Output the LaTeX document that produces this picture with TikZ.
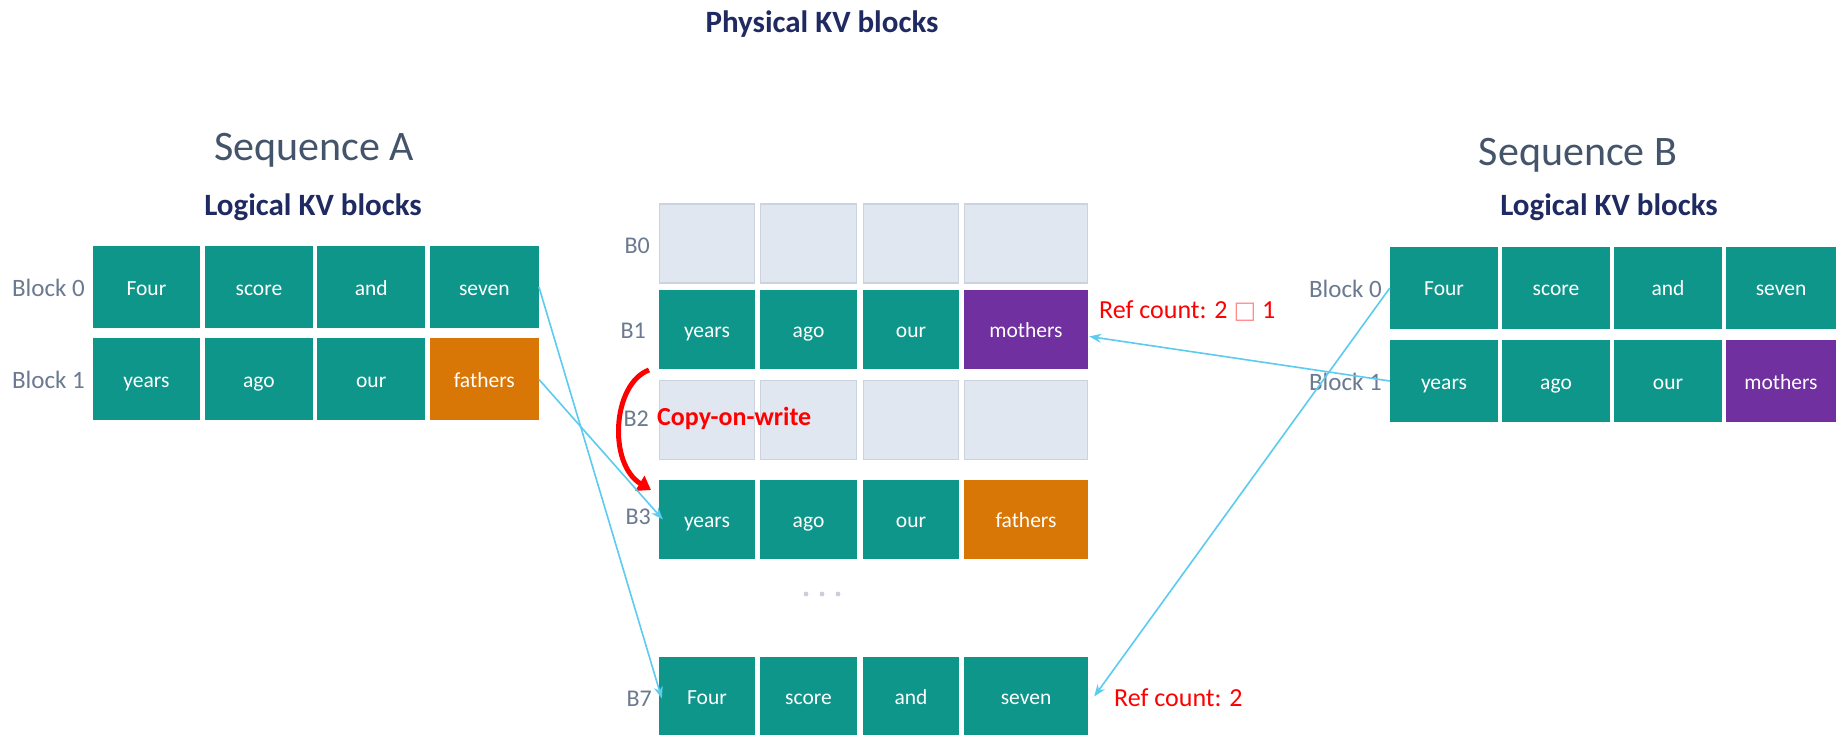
\documentclass[tikz,border=0pt]{standalone}
\usepackage{fontspec}
\setmainfont{Carlito}
\newfontfamily\dejavu{DejaVu Sans}
\usetikzlibrary{arrows.meta,calc}
\definecolor{tealc}{HTML}{0F968A}
\definecolor{orangec}{HTML}{D97706}
\definecolor{purplec}{HTML}{7030A0}
\definecolor{emptyf}{HTML}{E1E7F0}
\definecolor{emptyd}{HTML}{CBD3DF}
\definecolor{navyc}{HTML}{1F2A63}
\definecolor{seqc}{HTML}{44546A}
\definecolor{lblc}{HTML}{6B7A90}
\definecolor{linkc}{HTML}{5CCBF0}
\definecolor{dotc}{HTML}{C8CFDA}
\tikzset{
  cellbox/.style={minimum height=#1, inner sep=0pt, text=white,
    text height=18pt, text depth=2pt,
    font=\fontsize{21.5}{25}\selectfont},
  tealbox/.style={cellbox=82pt, fill=tealc},
  tealm/.style={cellbox=79pt, fill=tealc},
  orangebox/.style={fill=orangec},
  purplebox/.style={fill=purplec},
  emptybox/.style={cellbox=79pt, fill=emptyf, draw=emptyd, line width=1.5pt},
  blocklbl/.style={anchor=east, text=lblc, inner sep=0pt, font=\fontsize{25}{30}\selectfont},
  blbl/.style={anchor=east, text=lblc, inner sep=0pt, font=\fontsize{24}{28}\selectfont},
  seqlbl/.style={text=seqc, inner sep=0pt, font=\fontsize{42}{50}\selectfont},
  headlbl/.style={text=navyc, inner sep=0pt, font=\bfseries\fontsize{31}{37}\selectfont},
  reflbl/.style={anchor=west, text=red, inner sep=0pt, font=\fontsize{26}{31}\selectfont},
  link/.style={draw=linkc, line width=1.6pt, -{Stealth[length=12pt,width=9pt]}},
}
\begin{document}
\begin{tikzpicture}[x=1pt,y=-1pt]
\path[use as bounding box, fill=white] (0,0) rectangle (1836,735);

% titles
\node[headlbl] (phys) at (822,24) {Physical KV blocks};
\node[seqlbl] (seqA) at (314,150) {Sequence A};
\node[headlbl] (logA) at (313,207) {Logical KV blocks};
\node[seqlbl] (seqB) at (1578,155) {Sequence B};
\node[headlbl] (logB) at (1609,207) {Logical KV blocks};

% Sequence A logical blocks
\node[blocklbl] (aL0) at (85,288) {Block 0};
\node[blocklbl] (aL1) at (85,380) {Block 1};
\node[tealbox, minimum width=107.7pt] (a0c1) at (146.4,287) {Four};
\node[tealbox, minimum width=107.7pt] (a0c2) at (258.9,287) {score};
\node[tealbox, minimum width=107.7pt] (a0c3) at (371.2,287) {and};
\node[tealbox, minimum width=108.9pt] (a0c4) at (484.3,287) {seven};
\node[tealbox, minimum width=107.7pt] (a1c1) at (146.4,379.4) {years};
\node[tealbox, minimum width=107.7pt] (a1c2) at (258.9,379.4) {ago};
\node[tealbox, minimum width=107.7pt] (a1c3) at (371.2,379.4) {our};
\node[tealbox, orangebox, minimum width=108.9pt] (a1c4) at (484.3,379.4) {fathers};

% Physical blocks
\node[blbl] (pL0) at (650,246) {B0};
\node[blbl] (pL1) at (646,331) {B1};
\node[blbl] (pL2) at (649,419) {B2};
\node[blbl] (pL3) at (651,517) {B3};
\node[blbl] (pL7) at (652,699) {B7};

\node[emptybox, minimum width=95pt] (m0c1) at (707,243.5) {};
\node[emptybox, minimum width=96pt] (m0c2) at (808.5,243.5) {};
\node[emptybox, minimum width=95pt] (m0c3) at (911,243.5) {};
\node[emptybox, minimum width=123pt] (m0c4) at (1026,243.5) {};

\node[tealm, minimum width=96pt] (m1c1) at (707,329.5) {years};
\node[tealm, minimum width=97pt] (m1c2) at (808.5,329.5) {ago};
\node[tealm, minimum width=96pt] (m1c3) at (911,329.5) {our};
\node[tealm, purplebox, minimum width=124pt] (m1c4) at (1026,329.5) {mothers};

\node[emptybox, minimum width=95pt] (m2c1) at (707,420) {};
\node[emptybox, minimum width=96pt] (m2c2) at (808.5,420) {};
\node[emptybox, minimum width=95pt] (m2c3) at (911,420) {};
\node[emptybox, minimum width=123pt] (m2c4) at (1026,420) {};

\node[tealm, minimum width=96pt] (m3c1) at (707,519.5) {years};
\node[tealm, minimum width=97pt] (m3c2) at (808.5,519.5) {ago};
\node[tealm, minimum width=96pt] (m3c3) at (911,519.5) {our};
\node[tealm, orangebox, minimum width=124pt] (m3c4) at (1026,519.5) {fathers};

\node[tealm, minimum width=96pt] (m7c1) at (707,696.5) {Four};
\node[tealm, minimum width=97pt] (m7c2) at (808.5,696.5) {score};
\node[tealm, minimum width=96pt] (m7c3) at (911,696.5) {and};
\node[tealm, minimum width=124pt] (m7c4) at (1026,696.5) {seven};

% dots
\fill[dotc] (806,594) circle (2.4pt) (822,594) circle (2.4pt) (838,594) circle (2.4pt);

% Sequence B logical blocks
\node[blocklbl] (bL0) at (1382,289) {Block 0};
\node[blocklbl] (bL1) at (1382,382) {Block 1};
\node[tealbox, minimum width=108pt] (b0c1) at (1444,288) {Four};
\node[tealbox, minimum width=108pt] (b0c2) at (1556,288) {score};
\node[tealbox, minimum width=108pt] (b0c3) at (1668,288) {and};
\node[tealbox, minimum width=110pt] (b0c4) at (1781,288) {seven};
\node[tealbox, minimum width=108pt] (b1c1) at (1444,381) {years};
\node[tealbox, minimum width=108pt] (b1c2) at (1556,381) {ago};
\node[tealbox, minimum width=108pt] (b1c3) at (1668,381) {our};
\node[tealbox, purplebox, minimum width=110pt] (b1c4) at (1781,381) {mothers};

% ref counts
\node[reflbl] (ref1) at (1099,311) {Ref count: 2 {\dejavu\color{red!45}\fontsize{24}{28}\selectfont □} 1};
\node[reflbl] (ref2) at (1114,698) {Ref count: 2};

% copy on write
\node[anchor=west, text=red, inner sep=0pt, font=\bfseries\fontsize{26}{31}\selectfont] (cow) at (657,418) {Copy-on-write};
\coordinate (cowS) at (649,370);
\coordinate (cowE) at (651,490);
\draw[red, line width=5pt, -{Triangle[length=13pt,width=17pt]}]
  (cowS) .. controls (612,384) and (608,464) .. (cowE);

% links
\draw[link] (a0c4.east) -- ($(m7c1.west)+(3,2)$);
\draw[link] (a1c4.east) -- ($(m3c1.west)+(4,0)$);
\draw[link] (b1c1.west) -- ($(m1c4.east)+(1,7)$);
\draw[link] (b0c1.west) -- ($(m7c4.east)+(6,0)$);
\end{tikzpicture}
\end{document}
